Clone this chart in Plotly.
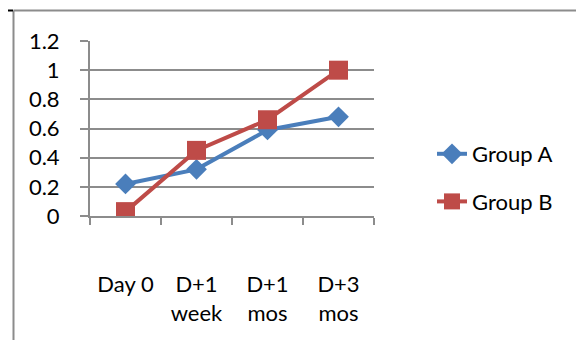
import plotly.graph_objects as go

categories = ["Day 0", "D+1<br>week", "D+1<br>mos", "D+3<br>mos"]
group_a = [0.22, 0.32, 0.59, 0.68]
group_b = [0.03, 0.45, 0.66, 1.0]
y_ticks = [0, 0.2, 0.4, 0.6, 0.8, 1, 1.2]
y_tick_labels = ["0", "0.2", "0.4", "0.6", "0.8", "1", "1.2"]

BLUE = "#4A7EBB"
RED = "#BE4B48"
GRID = "#8C8C8C"
FONT = "Lato"
FS = 22

fig = go.Figure()
fig.add_trace(go.Scatter(
    x=categories, y=group_a, name="Group A", mode="lines+markers",
    line=dict(color=BLUE, width=4),
    marker=dict(symbol="diamond", size=16, color=BLUE),
    legendgroup="a",
))
fig.add_trace(go.Scatter(
    x=categories, y=group_b, name="Group B", mode="lines+markers",
    line=dict(color=RED, width=4),
    marker=dict(symbol="square", size=19, color=RED),
    legendgroup="b",
))

# page body adds an 8px offset; figure coordinates are screen - 8
L, R, T, B = 82, 366, 33, 208
W, H = 576, 332
pw, ph = R - L, B - T

def px(x):
    return (x - L) / pw

def py(y):
    return (B - y) / ph

frame = dict(color="#8C8C8C", width=2)
shapes = [
    dict(type="line", xref="paper", yref="paper", x0=px(5.5), x1=px(W), y0=py(2.5), y1=py(2.5), line=frame),
    dict(type="line", xref="paper", yref="paper", x0=px(5.5), x1=px(5.5), y0=py(2.5), y1=py(H), line=frame),
    dict(type="line", xref="paper", yref="paper", x0=px(0), x1=px(5), y0=py(2.5), y1=py(2.5), line=dict(color="black", width=2)),
]

fig.update_layout(
    width=W, height=H,
    margin=dict(l=L, r=W - R, t=T, b=H - B),
    paper_bgcolor="white", plot_bgcolor="white",
    font=dict(family=FONT, size=FS, color="black"),
    showlegend=True,
    legend=dict(x=px(424), y=py(125), xanchor="left", yanchor="top",
                tracegroupgap=16, font=dict(size=FS), bgcolor="rgba(0,0,0,0)"),
    shapes=shapes,
)
fig.update_xaxes(
    type="category", showgrid=False, showline=True, linecolor=GRID, linewidth=2,
    ticks="outside", ticklen=7, tickcolor=GRID, tickwidth=2, tickson="boundaries",
    ticklabelstandoff=48, range=[-0.5, 3.5], automargin=False,
)
fig.update_yaxes(
    range=[0, 1.2001], tickvals=y_ticks, ticktext=y_tick_labels,
    showgrid=True, gridcolor=GRID, gridwidth=2, zeroline=False,
    showline=True, linecolor=GRID, linewidth=2,
    ticks="outside", ticklen=8, tickcolor=GRID, tickwidth=2,
    ticklabelstandoff=16, automargin=False,
)

fig.write_html("out.html")
